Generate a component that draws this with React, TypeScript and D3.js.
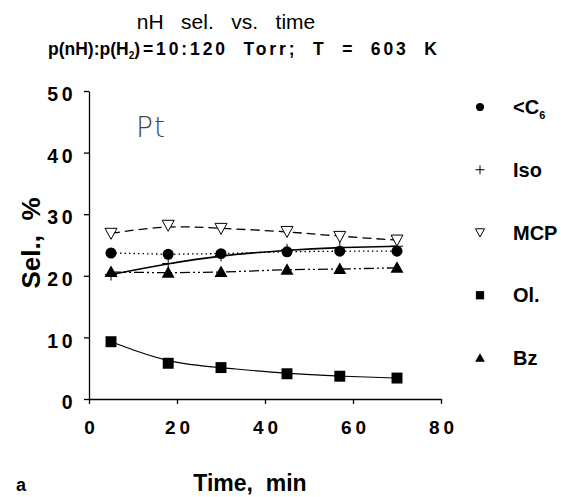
import React, { useEffect, useRef } from "react";
import * as d3 from "d3";

const times = [5, 18, 30, 45, 57, 70];
const c6Values = [23.7, 23.5, 23.6, 23.9, 24.0, 24.0];
const isoValues = [20.2, 22.0, 23.3, 24.2, 24.6, 24.8];
const mcpValues = [26.9, 28.2, 27.7, 27.2, 26.4, 25.8];
const olValues = [9.3, 5.8, 5.1, 4.1, 3.7, 3.4];
const bzValues = [20.6, 20.5, 20.6, 21.0, 21.1, 21.3];
const xTicks = [0, 20, 40, 60, 80];
const yTicks = [0, 10, 20, 30, 40, 50];
const legendKeys = ["c6", "iso", "mcp", "ol", "bz"];
const legendLabels = ["<C", "Iso", "MCP", "Ol.", "Bz"];

const FONT = "'Liberation Sans', Arial, sans-serif";

const App = () => {
  const ref = useRef<SVGSVGElement>(null);

  useEffect(() => {
    const width = 561,
      height = 497;
    const margin = { top: 91, right: 120, bottom: 98, left: 89 };

    const svg = d3.select(ref.current);
    svg.selectAll("*").remove();

    const x = d3
      .scaleLinear()
      .domain([0, 80])
      .range([margin.left, width - margin.right]);
    const y = d3
      .scaleLinear()
      .domain([0, 50])
      .range([height - margin.bottom, margin.top]);

    // axes
    const xAxis = svg
      .append("g")
      .attr("transform", `translate(0,${y(0)})`)
      .call(d3.axisBottom(x).tickValues(xTicks).tickSize(5).tickSizeOuter(0));
    xAxis.select(".domain").attr("stroke", "#000").attr("stroke-width", 1.3);
    xAxis.selectAll(".tick line").attr("stroke-width", 1.3);
    xAxis
      .selectAll(".tick text")
      .attr("y", 22)
      .attr("dx", 2)
      .attr("font-family", FONT)
      .attr("font-weight", "bold")
      .attr("font-size", 19)
      .attr("letter-spacing", 4);

    const yAxis = svg
      .append("g")
      .attr("transform", `translate(${x(0)},0)`)
      .call(d3.axisLeft(y).tickValues(yTicks).tickSize(5).tickSizeOuter(0));
    yAxis.select(".domain").attr("stroke", "#000").attr("stroke-width", 1.3);
    yAxis.selectAll(".tick line").attr("stroke-width", 1.3);
    yAxis
      .selectAll(".tick text")
      .attr("x", -13)
      .attr("dy", "0.5em")
      .attr("font-family", FONT)
      .attr("font-weight", "bold")
      .attr("font-size", 19.5)
      .attr("letter-spacing", 3.5);

    const series = [
      { key: "c6", values: c6Values, dash: "1.5,3", width: 1.3, curve: d3.curveLinear },
      { key: "iso", values: isoValues, dash: null, width: 1.6, curve: d3.curveBasis },
      { key: "mcp", values: mcpValues, dash: "9,5", width: 1.3, curve: d3.curveBasis },
      { key: "ol", values: olValues, dash: null, width: 1.1, curve: d3.curveBasis },
      { key: "bz", values: bzValues, dash: "10,3,2,3,2,3", width: 1.3, curve: d3.curveLinear },
    ];

    series.forEach((s) => {
      const line = d3
        .line<number>()
        .x((_, i) => x(times[i]))
        .y((d) => y(d))
        .curve(s.curve);
      svg
        .append("path")
        .attr("d", line(s.values))
        .attr("fill", "none")
        .attr("stroke", "#000")
        .attr("stroke-width", s.width)
        .attr("stroke-dasharray", s.dash);
    });

    const sym = (key: string, k: number) => {
      if (key === "c6") return d3.symbol(d3.symbolCircle, 95 * k * k)();
      if (key === "mcp") return `M${-6 * k},${-5 * k}L${6 * k},${-5 * k}L0,${6 * k}Z`;
      if (key === "ol") return d3.symbol(d3.symbolSquare, 120 * k * k)();
      return `M0,${-6.5 * k}L${6.5 * k},${5 * k}L${-6.5 * k},${5 * k}Z`;
    };

    const plus = (cx: number, cy: number, r: number) => {
      svg
        .append("path")
        .attr("d", `M${cx - r},${cy}L${cx + r},${cy}M${cx},${cy - r}L${cx},${cy + r}`)
        .attr("stroke", "#000")
        .attr("stroke-width", 1);
    };

    const marker = (key: string, cx: number, cy: number, k: number) => {
      if (key === "iso") {
        plus(cx, cy, 6 * k);
        return;
      }
      svg
        .append("path")
        .attr("d", sym(key, k))
        .attr("transform", `translate(${cx},${cy})`)
        .attr("fill", key === "mcp" ? "#fff" : "#000")
        .attr("stroke", "#000")
        .attr("stroke-width", key === "mcp" ? 1 : 0);
    };

    series.forEach((s) => {
      s.values.forEach((v, i) => marker(s.key, x(times[i]), y(v), 1));
    });

    // legend
    const legendY = d3
      .scalePoint()
      .domain(legendKeys)
      .range([107, 358]);
    legendKeys.forEach((key, i) => {
      const ly = legendY(key) as number;
      marker(key, 480, ly, 0.75);
      const t = svg
        .append("text")
        .attr("x", 513)
        .attr("y", ly + 7)
        .attr("font-family", FONT)
        .attr("font-weight", "bold")
        .attr("font-size", 20)
        .text(legendLabels[i]);
      if (key === "c6")
        t.append("tspan").attr("dy", 5).attr("font-size", 11).text("6");
    });

    // titles and labels
    svg
      .append("text")
      .attr("x", 226)
      .attr("y", 29)
      .attr("text-anchor", "middle")
      .attr("font-family", FONT)
      .attr("font-size", 21)
      .attr("xml:space", "preserve")
      .text("nH   sel.   vs.   time");

    const sub = svg
      .append("text")
      .attr("x", 48)
      .attr("y", 55)
      .attr("font-family", FONT)
      .attr("font-size", 17.5)
      .attr("font-weight", "bold")
      .attr("xml:space", "preserve");
    sub.append("tspan").text("p(nH):p(H");
    sub.append("tspan").attr("dy", 4).attr("font-size", 10).text("2");
    sub
      .append("tspan")
      .attr("dy", -4)
      .attr("letter-spacing", 2.9)
      .text(")=10:120  Torr;  T  =  603  K");

    svg
      .append("text")
      .attr("x", 136)
      .attr("y", 137)
      .attr("font-family", "'DejaVu Sans', sans-serif")
      .attr("font-size", 28)
      .attr("font-weight", 200)
      .attr("letter-spacing", 1)
      .attr("fill", "#444")
      .text("Pt");

    svg
      .append("text")
      .attr("transform", `translate(40,243) rotate(-90)`)
      .attr("text-anchor", "middle")
      .attr("font-family", FONT)
      .attr("font-weight", "bold")
      .attr("font-size", 26)
      .attr("xml:space", "preserve")
      .text("Sel.,  %");

    svg
      .append("text")
      .attr("x", 250)
      .attr("y", 491)
      .attr("text-anchor", "middle")
      .attr("font-family", FONT)
      .attr("font-weight", "bold")
      .attr("font-size", 23)
      .attr("xml:space", "preserve")
      .text("Time,  min");

    svg
      .append("text")
      .attr("x", 16)
      .attr("y", 491)
      .attr("font-family", FONT)
      .attr("font-weight", "bold")
      .attr("font-size", 18)
      .text("a");
  }, []);

  return (
    <svg
      ref={ref}
      width={561}
      height={497}
      style={{ position: "absolute", left: 0, top: 0, background: "#fff" }}
    />
  );
};

export default App;
